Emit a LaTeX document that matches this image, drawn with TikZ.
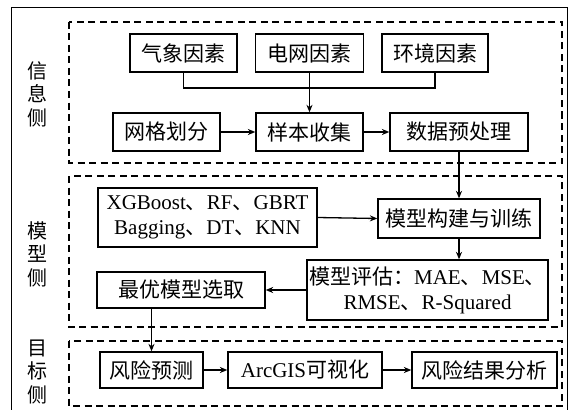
\documentclass[tikz,border=0pt]{standalone}
\usepackage{fontspec}
\setmainfont{Liberation Serif}
\newfontfamily\cjk{Noto Sans CJK SC}
\usetikzlibrary{arrows.meta, positioning}
\tikzset{
  flowbox/.style={draw, line width=1.3pt, inner sep=0pt, align=center, font=\fontsize{21}{25}\selectfont}
}
\tikzset{
  groupframe/.style={line width=1.2pt, dash pattern=on 7pt off 4.5pt}
}
\tikzset{
  sidetext/.style={align=center, font=\fontsize{20}{23.5}\selectfont}
}
\newcommand{\zh}[1]{{\cjk #1}}

\begin{document}
\begin{tikzpicture}[>={Stealth[length=7.5pt,width=6pt]}, x=1pt, y=-1pt]
      \useasboundingbox (0,0) rectangle (569,409);
      % outer frame, bottom runs off the page
      \draw[line width=1pt] (11.5,8) rectangle (567.5,440);
      % three dashed groups
      \draw[groupframe] (69,22) rectangle (562,163);
      \draw[groupframe] (69,176) rectangle (562,327);
      \draw[groupframe] (69,341) rectangle (562,406);
      \node[sidetext] (infolbl) at (37,94) {\zh{信}\\\zh{息}\\\zh{侧}};
      \node[sidetext] (modellbl) at (37,254) {\zh{模}\\\zh{型}\\\zh{侧}};
      \node[sidetext] (targetlbl) at (37,372) {\zh{目}\\\zh{标}\\\zh{侧}};
      % information side
      \node[flowbox, minimum width=107pt, minimum height=38pt] (qx) at (183.5,53) {\zh{气象因素}};
      \node[flowbox, minimum width=108pt, minimum height=38pt] (dw) at (309.5,53) {\zh{电网因素}};
      \node[flowbox, minimum width=106pt, minimum height=38pt] (hj) at (435,53) {\zh{环境因素}};
      \node[flowbox, minimum width=107pt, minimum height=38pt] (wg) at (166.5,132) {\zh{网格划分}};
      \node[flowbox, minimum width=107pt, minimum height=38pt] (yb) at (309.5,132) {\zh{样本收集}};
      \node[flowbox, minimum width=138pt, minimum height=38pt] (sj) at (459,132) {\zh{数据预处理}};
      \coordinate (merge) at (309.5,88);
      \draw[line width=1.3pt] (qx.south) |- (merge) -| (hj.south);
      \draw[line width=1.3pt, ->] (dw.south) -- (yb.north);
      \draw[line width=1.3pt, ->] (wg.east) -- (yb.west);
      \draw[line width=1.3pt, ->] (yb.east) -- (sj.west);
      % model side
      \node[flowbox, minimum width=219pt, minimum height=59pt] (algo) at (207.5,217.5)
        {XGBoost\zh{、}RF\zh{、}GBRT\\Bagging\zh{、}DT\zh{、}KNN};
      \node[flowbox, minimum width=162pt, minimum height=39pt] (build) at (459,218.5) {\zh{模型构建与训练}};
      \node[flowbox, minimum width=241pt, minimum height=60pt] (eval) at (427.5,290)
        {\zh{模型评估：}MAE\zh{、}MSE\zh{、}\\RMSE\zh{、}R-Squared};
      \node[flowbox, minimum width=168pt, minimum height=36pt] (best) at (181,290) {\zh{最优模型选取}};
      \draw[line width=1.3pt, ->] (sj.south) -- (build.north);
      \draw[line width=1.3pt, ->] (algo.east) -- (build.west);
      \draw[line width=1.3pt, ->] (build.south) -- (build.south |- eval.north);
      \draw[line width=1.3pt, ->] (eval.west) -- (best.east);
      % target side
      \node[flowbox, minimum width=103pt, minimum height=36pt] (pred) at (151.5,370) {\zh{风险预测}};
      \node[flowbox, minimum width=154pt, minimum height=36pt] (arc) at (305,370) {ArcGIS\zh{可视化}};
      \node[flowbox, minimum width=145pt, minimum height=36pt] (res) at (484.5,370) {\zh{风险结果分析}};
      \draw[line width=1.3pt, ->] (pred.north |- best.south) -- (pred.north);
      \draw[line width=1.3pt, ->] (pred.east) -- (arc.west);
      \draw[line width=1.3pt, ->] (arc.east) -- (res.west);
    \end{tikzpicture}
\end{document}
